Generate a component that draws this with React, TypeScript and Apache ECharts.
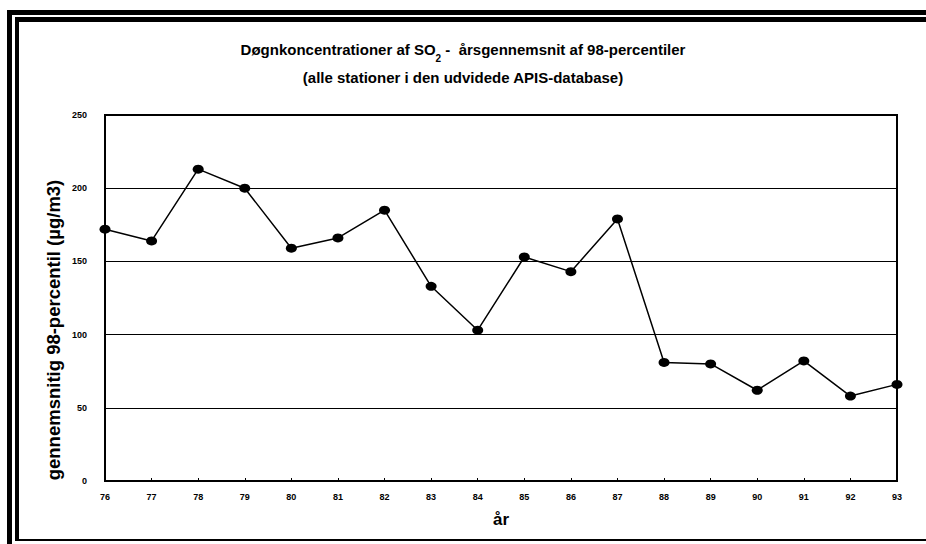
import React, { useEffect, useRef } from "react";
import * as echarts from "echarts";

const years = ["76", "77", "78", "79", "80", "81", "82", "83", "84", "85", "86", "87", "88", "89", "90", "91", "92", "93"];
const values = [172, 164, 213, 200, 159, 166, 185, 133, 103, 153, 143, 179, 81, 80, 62, 82, 58, 66];

const FONT = "'Liberation Sans', Arial, sans-serif";

export default function App() {
  const ref = useRef<HTMLDivElement>(null);
  useEffect(() => {
    document.body.style.margin = "0";
    const chart = echarts.init(ref.current!, null, { renderer: "svg" });
    chart.setOption({
      animation: false,
      backgroundColor: "#ffffff",
      title: {
        left: "center",
        top: 30,
        text: "Døgnkoncentrationer af SO{sub|2} -  årsgennemsnit af 98-percentiler\n(alle stationer i den udvidede APIS-database)",
        textStyle: {
          fontFamily: FONT,
          fontWeight: "bold",
          fontSize: 15,
          color: "#000",
          lineHeight: 28,
          rich: {
            sub: { fontFamily: FONT, fontWeight: "bold", fontSize: 10, color: "#000", verticalAlign: "bottom", padding: [6, 0, 0, 0], lineHeight: 28 },
          },
        },
      },
      grid: {
        left: 105,
        right: 29,
        top: 115,
        bottom: 63,
        show: true,
        borderColor: "#000",
        borderWidth: 2,
        backgroundColor: "transparent",
      },
      xAxis: {
        type: "category",
        data: years,
        boundaryGap: false,
        axisLine: { show: true, lineStyle: { color: "#000", width: 2 } },
        axisTick: { show: true, inside: true, length: 3, lineStyle: { color: "#000", width: 1 } },
        axisLabel: { color: "#000", fontFamily: FONT, fontWeight: "bold", fontSize: 9, margin: 11 },
        name: "år",
        nameLocation: "middle",
        nameGap: 30,
        nameTextStyle: { color: "#000", fontFamily: FONT, fontWeight: "bold", fontSize: 17 },
        splitLine: { show: false },
      },
      yAxis: {
        type: "value",
        min: 0,
        max: 250,
        interval: 50,
        axisLine: { show: true, lineStyle: { color: "#000", width: 2 } },
        axisTick: { show: false },
        axisLabel: { color: "#000", fontFamily: FONT, fontWeight: "bold", fontSize: 9, margin: 18 },
        splitLine: { show: true, lineStyle: { color: "#000", width: 1 } },
      },
      series: [
        {
          type: "line",
          data: values,
          symbol: "circle",
          symbolSize: [11, 9],
          lineStyle: { color: "#000", width: 1.5 },
          itemStyle: { color: "#000" },
        },
      ],
      graphic: [
        { type: "rect", shape: { x: 7, y: 10, width: 5, height: 534 }, style: { fill: "#000" } },
        { type: "rect", shape: { x: 15, y: 17, width: 4, height: 524 }, style: { fill: "#000" } },
        { type: "rect", shape: { x: 7, y: 10, width: 919, height: 5 }, style: { fill: "#000" } },
        { type: "rect", shape: { x: 15, y: 17, width: 911, height: 5 }, style: { fill: "#000" } },
        { type: "rect", shape: { x: 15, y: 539, width: 911, height: 2 }, style: { fill: "#000" } },
        {
          type: "text",
          x: 53,
          y: 330,
          rotation: Math.PI / 2,
          style: {
            text: "gennemsnitig 98-percentil (µg/m3)",
            fontFamily: FONT,
            fontWeight: "bold",
            fontSize: 18.5,
            fill: "#000",
            textAlign: "center",
            textVerticalAlign: "middle",
          },
        },
      ],
    });
    return () => chart.dispose();
  }, []);
  return <div ref={ref} style={{ position: "fixed", left: 0, top: 0, width: 926, height: 544 }} />;
}
